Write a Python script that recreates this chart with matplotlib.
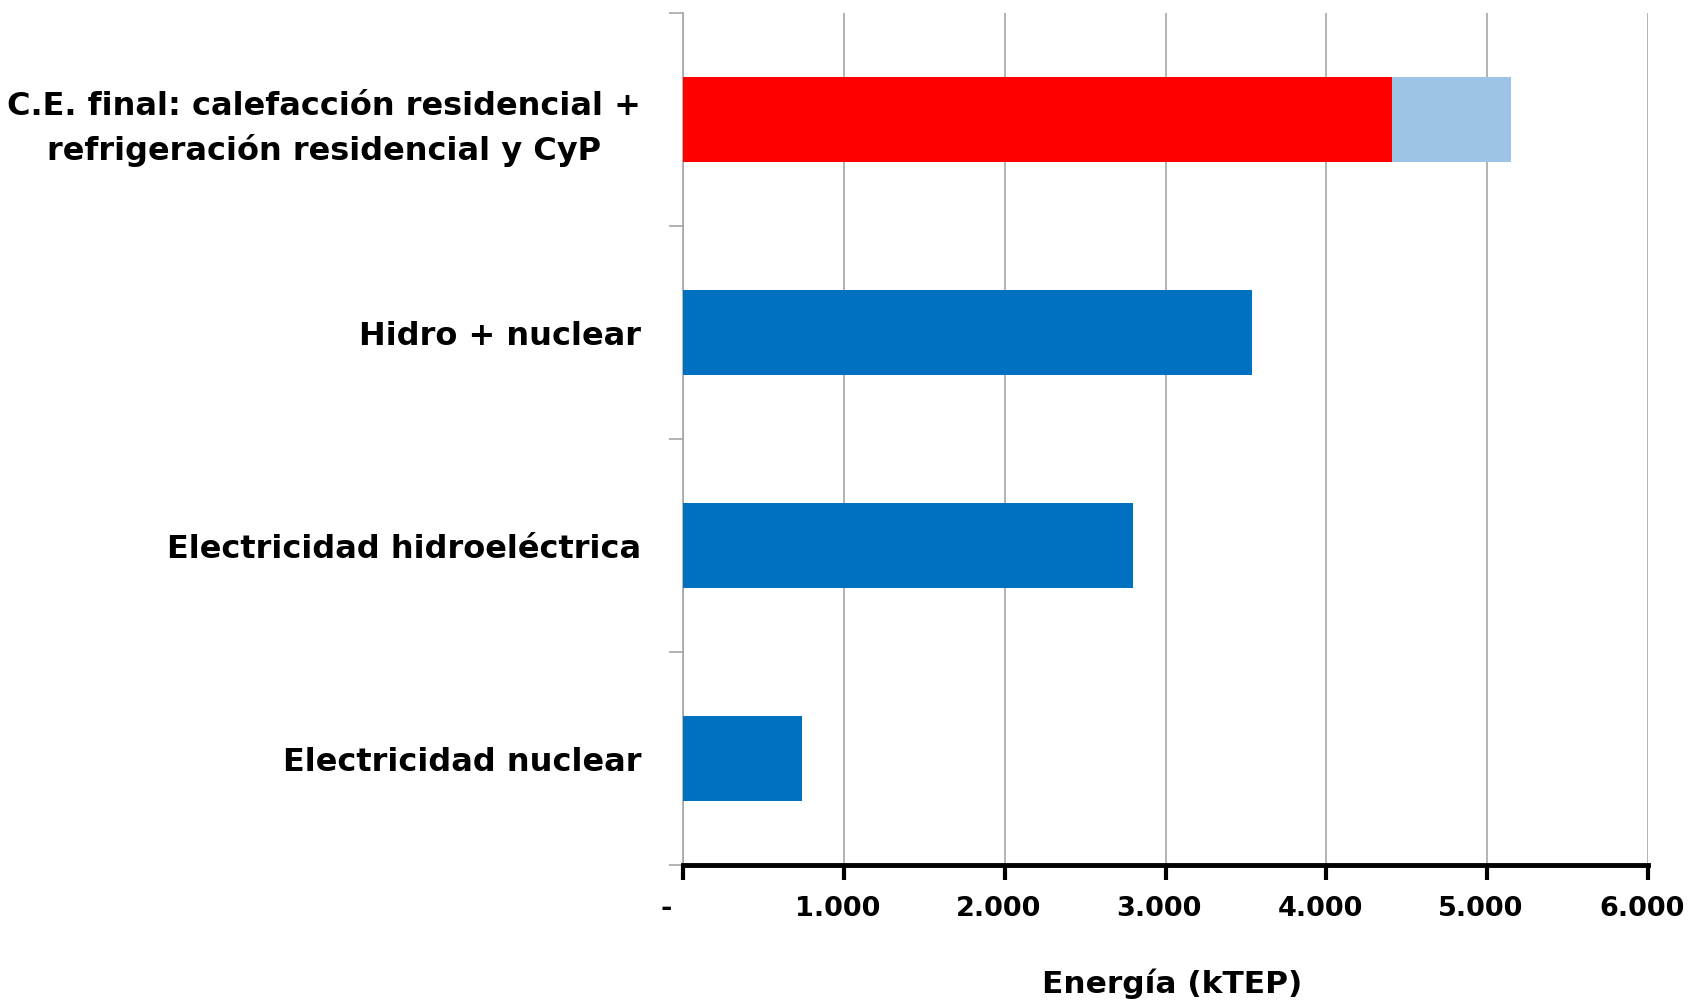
import matplotlib
matplotlib.use("Agg")
import matplotlib.pyplot as plt
import matplotlib.transforms as mtransforms
import numpy as np

matplotlib.rcParams['font.family'] = ['DejaVu Sans']

# datos (kTEP)
categorias = ["Electricidad nuclear",
              "Electricidad hidroeléctrica",
              "Hidro + nuclear",
              "C.E. final: calefacción residencial +\nrefrigeración residencial y CyP"]
serie_base = [740, 2795, 3535, 4410]
serie_extra = [0, 0, 0, 740]
colores_base = ["#0070C0", "#0070C0", "#0070C0", "#FF0000"]
color_extra = "#9DC3E6"
ticks_x = [0, 1000, 2000, 3000, 4000, 5000, 6000]
etiquetas_x = ["-", "1.000", "2.000", "3.000", "4.000", "5.000", "6.000"]

fig = plt.figure(figsize=(16.91, 10.05), dpi=100)
ax = fig.add_axes([0.4039, 0.1393, 0.9746 - 0.4039, 0.987 - 0.1393])

y = np.arange(len(categorias))
ax.barh(y, serie_base, height=0.4, color=colores_base, zorder=3)
ax.barh(y, serie_extra, left=serie_base, height=0.4, color=color_extra, zorder=3)

ax.set_xlim(0, 6000)
ax.set_ylim(-0.5, len(categorias) - 0.5)

# rejilla vertical
ax.set_xticks(ticks_x)
ax.set_xticklabels(etiquetas_x, fontsize=19.5, fontweight='bold')
ax.grid(axis='x', color='#A6A6A6', linewidth=1.2, zorder=0)
ax.tick_params(axis='x', direction='out', length=11, width=3, color='black', pad=11)
for i, t in enumerate(ax.get_xticklabels()):
    dx = -4.5 / 72
    if i == 0:
        t.set_ha('right')
        dx = -8 / 72
    t.set_transform(t.get_transform() + mtransforms.ScaledTranslation(dx, 0, fig.dpi_scale_trans))

# eje y
ax.set_yticks(y)
ax.set_yticklabels(categorias, fontsize=23, fontweight='bold', linespacing=1.45)
for t in ax.get_yticklabels():
    t.set_multialignment('center')
ax.set_yticks(np.arange(-0.5, len(categorias), 1.0), minor=True)
ax.tick_params(axis='y', which='major', length=0, pad=30)
ax.tick_params(axis='y', which='minor', length=10, width=1.2, color='#A6A6A6')

for s in ['top', 'right']:
    ax.spines[s].set_visible(False)
ax.spines['left'].set_color('#A6A6A6')
ax.spines['left'].set_linewidth(1.2)
ax.spines['bottom'].set_color('black')
ax.spines['bottom'].set_linewidth(3.5)
ax.spines['bottom'].set_zorder(4)

ax.set_xlabel("Energía (kTEP)", fontsize=22.5, fontweight='bold', labelpad=34)
ax.xaxis.label.set_x(0.507)

fig.savefig("out.png", dpi=100)
